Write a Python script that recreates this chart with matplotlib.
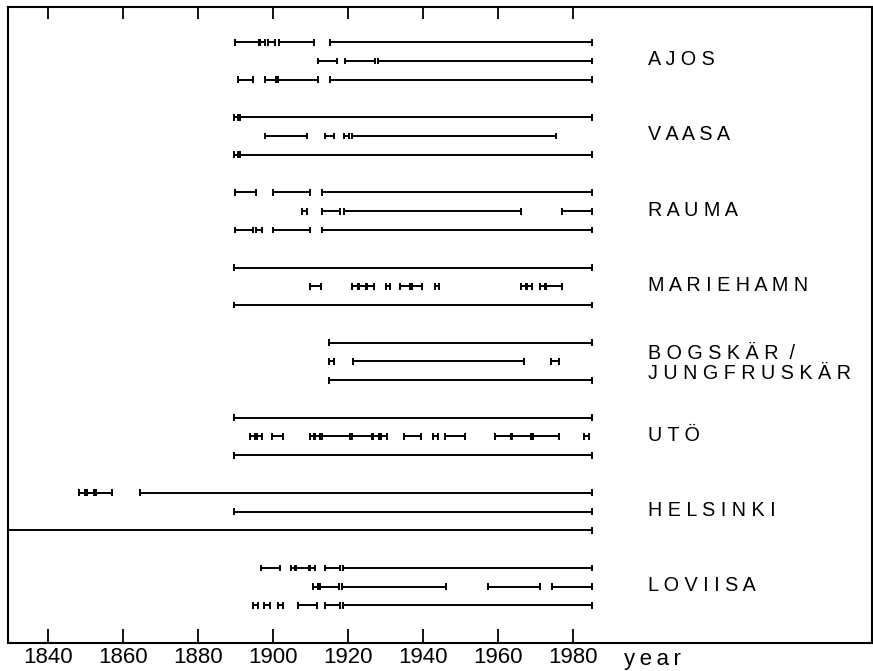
import matplotlib
matplotlib.use("Agg")
import matplotlib.pyplot as plt

plt.rcParams["font.family"] = ["Liberation Sans", "DejaVu Sans"]

# station names, top to bottom
stations = ["AJOS", "VAASA", "RAUMA", "MARIEHAMN", "BOGSKÄR /\nJUNGFRUSKÄR", "UTÖ", "HELSINKI", "LOVIISA"]

# observation periods (start year, end year), three rows per station
ajos = [
    [(1889.9, 1896.2), (1896.6, 1897.8), (1898.8, 1900.6), (1901.6, 1910.9), (1915.1, 1985)],
    [(1911.9, 1917.1), (1919.1, 1927.1), (1928.0, 1985)],
    [(1890.8, 1894.8), (1897.8, 1900.9), (1901.3, 1911.9), (1915.1, 1985)],
]
vaasa = [
    [(1889.6, 1890.6), (1891.3, 1985)],
    [(1897.8, 1909.1), (1914.0, 1916.2), (1919.0, 1920.2), (1921.1, 1975.4)],
    [(1889.6, 1890.6), (1891.3, 1985)],
]
rauma = [
    [(1890.0, 1895.6), (1900.0, 1910.0), (1913.1, 1985)],
    [(1907.8, 1909.1), (1913.1, 1917.8), (1918.9, 1966.0), (1977.1, 1985)],
    [(1890.0, 1894.8), (1895.6, 1897.1), (1900.0, 1910.0), (1913.1, 1985)],
]
mariehamn = [
    [(1889.7, 1985)],
    [(1910.0, 1912.8), (1921.1, 1922.7), (1923.0, 1924.8), (1925.1, 1926.9), (1930.2, 1931.3),
     (1934.0, 1936.6), (1937.0, 1939.8), (1943.1, 1944.2), (1966.0, 1967.4), (1967.8, 1969.1),
     (1971.1, 1972.5), (1972.9, 1977.1)],
    [(1889.7, 1985)],
]
bogskar = [
    [(1915.0, 1985)],
    [(1914.9, 1916.2), (1921.3, 1966.9), (1974.0, 1976.2)],
    [(1915.0, 1985)],
]
uto = [
    [(1889.7, 1985)],
    [(1893.9, 1895.3), (1895.7, 1897.1), (1899.7, 1902.8), (1909.9, 1911.0), (1911.3, 1912.5),
     (1913.1, 1920.5), (1921.1, 1926.3), (1926.7, 1928.3), (1928.7, 1930.3), (1934.9, 1939.5),
     (1942.6, 1943.9), (1945.8, 1951.2), (1959.1, 1963.4), (1963.8, 1968.7), (1969.2, 1976.2),
     (1983.0, 1984.3)],
    [(1889.7, 1985)],
]
helsinki = [
    [(1848.4, 1849.8), (1850.4, 1852.2), (1852.8, 1857.0), (1864.6, 1985)],
    [(1889.7, 1985)],
    [(1829.0, 1985)],
]
loviisa = [
    [(1896.8, 1901.8), (1904.8, 1905.9), (1906.2, 1909.5), (1909.9, 1911.3), (1914.0, 1918.0), (1918.7, 1985)],
    [(1910.7, 1911.9), (1912.6, 1917.5), (1918.4, 1946.1), (1957.3, 1971.1), (1974.4, 1985)],
    [(1894.6, 1896.0), (1897.6, 1899.3), (1901.4, 1902.8), (1906.8, 1911.7), (1914.0, 1918.0), (1918.7, 1985)],
]
periods = [ajos, vaasa, rauma, mariehamn, bogskar, uto, helsinki, loviisa]

year_ticks = [1840, 1860, 1880, 1900, 1920, 1940, 1960, 1980]

fig = plt.figure(figsize=(8.73, 6.71), dpi=100)
ax = fig.add_axes([0.0092, 0.0417, 0.9893, 0.948])

row_gap = 0.25
cap = 0.045
for i, rows in enumerate(periods):
    for j, row in enumerate(rows):
        y = i + (j - 1) * row_gap
        for a, b in row:
            ax.hlines(y, a, b, color="black", lw=1.4)
            ax.vlines([a, b], y - cap, y + cap, color="black", lw=1.4)

# station names, letter spaced
for i, name in enumerate(stations):
    spaced = "\n".join("  ".join(" ".join(w) for w in line.split(" ")) for line in name.split("\n"))
    two_lines = "\n" in name
    ax.text(2000, i + (0.03 if two_lines else -0.015), spaced, fontsize=14.2,
            va="center", ha="left", color="black", linespacing=1.1)

ax.set_xlim(1829.4, 2059.6)
ax.set_ylim(7.75, -0.72)
ax.set_yticks([])
ax.set_xticks(year_ticks)
ax.set_xticklabels([str(t) for t in year_ticks])
ax.tick_params(axis="x", direction="in", length=10, width=1.3, pad=3, labelsize=16)

top = ax.secondary_xaxis("top")
top.set_xticks(year_ticks)
top.tick_params(axis="x", direction="in", length=8.6, width=1.3, labeltop=False)
for s in top.spines.values():
    s.set_visible(False)

for s in ax.spines.values():
    s.set_linewidth(1.5)

ax.annotate("y\u2009e\u2009a\u2009r", xy=(1993.7, 0), xycoords=("data", "axes fraction"),
            xytext=(0, -16), textcoords="offset points", fontsize=16, va="baseline", ha="left",
            annotation_clip=False)

fig.savefig("out.png", dpi=100)
